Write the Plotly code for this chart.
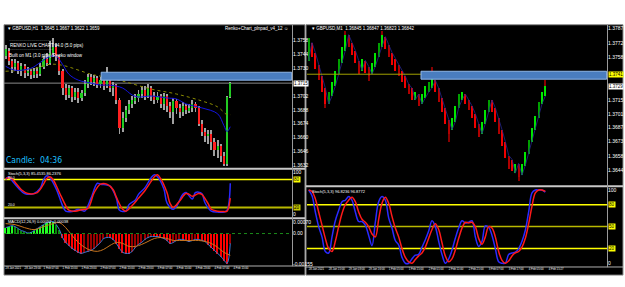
import plotly.graph_objects as go

W, H = 625, 287

# ---------------- data: left chart (GBPUSD H1 candles) ----------------
left_open = [1.3743,1.3748,1.3738,1.3732,1.3736,1.3728,1.3733,1.3726,1.3728,1.3723,
             1.3728,1.3724,1.3732,1.3740,1.3736,1.3746,1.3752,1.3742,1.3728,1.3710,
             1.3703,1.3710,1.3701,1.3706,1.3700,1.3705,1.3714,1.3721,1.3716,1.3720,
             1.3714,1.3718,1.3712,1.3720,1.3710,1.3713,1.3698,1.3670,1.3680,1.3688,
             1.3694,1.3698,1.3700,1.3704,1.3708,1.3702,1.3710,1.3702,1.3698,1.3702,
             1.3694,1.3702,1.3692,1.3686,1.3697,1.3690,1.3686,1.3692,1.3688,1.3690,
             1.3694,1.3690,1.3674,1.3666,1.3662,1.3664,1.3656,1.3648,1.3652,1.3642,
             1.3634,1.3701]
left_high = [1.3754,1.3751,1.3740,1.3740,1.3738,1.3736,1.3735,1.3732,1.3730,1.3731,
             1.3732,1.3736,1.3743,1.3746,1.3758,1.3761,1.3756,1.3744,1.3730,1.3714,
             1.3713,1.3712,1.3710,1.3710,1.3708,1.3718,1.3724,1.3724,1.3723,1.3722,
             1.3721,1.3723,1.3732,1.3722,1.3716,1.3714,1.3700,1.3686,1.3692,1.3698,
             1.3702,1.3704,1.3708,1.3712,1.3712,1.3714,1.3712,1.3706,1.3706,1.3704,
             1.3705,1.3704,1.3696,1.3700,1.3699,1.3694,1.3696,1.3694,1.3694,1.3698,
             1.3696,1.3692,1.3678,1.3670,1.3668,1.3668,1.3660,1.3658,1.3654,1.3646,
             1.3702,1.3716]
left_low = [1.3740,1.3734,1.3726,1.3728,1.3724,1.3722,1.3720,1.3722,1.3719,1.3720,
            1.3720,1.3722,1.3730,1.3733,1.3734,1.3742,1.3738,1.3723,1.3703,1.3698,
            1.3700,1.3696,1.3698,1.3695,1.3697,1.3702,1.3710,1.3713,1.3712,1.3710,
            1.3710,1.3708,1.3710,1.3706,1.3702,1.3694,1.3664,1.3666,1.3676,1.3684,
            1.3690,1.3694,1.3696,1.3700,1.3698,1.3700,1.3697,1.3694,1.3695,1.3690,
            1.3688,1.3686,1.3680,1.3674,1.3684,1.3680,1.3682,1.3684,1.3685,1.3686,
            1.3686,1.3672,1.3662,1.3656,1.3654,1.3648,1.3642,1.3640,1.3636,1.3632,
            1.3632,1.3700]
left_close = [1.3750,1.3738,1.3732,1.3736,1.3728,1.3733,1.3726,1.3728,1.3723,1.3728,
              1.3724,1.3732,1.3740,1.3736,1.3746,1.3752,1.3742,1.3728,1.3710,1.3703,
              1.3710,1.3701,1.3706,1.3700,1.3705,1.3714,1.3721,1.3716,1.3720,1.3714,
              1.3718,1.3712,1.3720,1.3710,1.3713,1.3698,1.3670,1.3680,1.3688,1.3694,
              1.3698,1.3700,1.3704,1.3708,1.3702,1.3710,1.3702,1.3698,1.3702,1.3694,
              1.3702,1.3692,1.3686,1.3697,1.3690,1.3686,1.3692,1.3688,1.3690,1.3694,
              1.3690,1.3674,1.3666,1.3662,1.3664,1.3656,1.3648,1.3652,1.3642,1.3634,
              1.3701,1.3715]

ma_fast_idx = [0,3,8,11,14,16,18,20,23,27,30,33,37,40,42,46,51,54,57,62,67,69,70,71]
ma_fast = [1.3732,1.3728,1.3730,1.3736,1.3742,1.3742,1.3734,1.3724,1.3718,1.3715,1.3713,1.3713,
           1.3710,1.3703,1.3701,1.3702,1.3700,1.3699,1.3694,1.3690,1.3684,1.3672,1.3666,1.3671]
ma_slow_idx = [0,8,14,18,27,30,37,46,54,62,67,70,71]
ma_slow = [1.3727,1.3729,1.3734,1.3733,1.3724,1.3722,1.3717,1.3709,1.3704,1.3697,1.3691,1.3683,1.3683]

left_zone = dict(start=30.2, top=1.3726, bottom=1.3718)
left_price_ticks = [1.3758,1.3744,1.3730,1.3702,1.3688,1.3674,1.3660,1.3646,1.3632]

ls_main_idx = [0,1,2,4,6,9,11,12,13,14,16,18,19,21,23,24,25,27,29,30,32,33,35,36,38,39,41,42,44,46,
               47,48,50,51,53,54,56,57,59,60,62,63,65,67,69,70,71]
ls_main = [80,86,78,62,50,50,62,80,88,84,60,24,12,11,16,14,12,40,72,70,68,66,40,14,12,26,36,48,62,84,
           90,86,60,30,16,22,48,52,38,52,50,30,12,10,10,14,72]
ls_sig_idx = [0,1,2,3,5,7,10,12,13,14,15,17,19,20,22,24,26,28,30,32,34,35,37,38,40,42,44,46,47,48,
              49,51,52,53,55,57,58,59,61,62,64,65,67,69,70,71]
ls_sig = [82,84,82,74,58,50,52,70,82,86,80,52,24,14,12,15,18,52,70,70,58,42,16,12,24,40,56,76,86,90,
          82,52,28,20,34,50,48,44,50,48,28,16,12,11,12,40]

macd_hist = [0.00030,0.00035,0.00040,0.00035,0.00025,0.00015,0.00010,0.00003,0.00005,0.00015,
             0.00025,0.00035,0.00045,0.00055,0.00060,0.00060,0.00045,0.00020,-0.00020,-0.00045,
             -0.00060,-0.00075,-0.00085,-0.00095,-0.00100,-0.00095,-0.00090,-0.00085,-0.00075,-0.00060,
             -0.00045,-0.00025,-0.00020,-0.00020,-0.00030,-0.00050,-0.00075,-0.00095,-0.00100,-0.00100,
             -0.00090,-0.00070,-0.00055,-0.00045,-0.00030,-0.00020,-0.00015,-0.00015,-0.00015,-0.00020,
             -0.00025,-0.00035,-0.00050,-0.00045,-0.00035,-0.00030,-0.00030,-0.00035,-0.00040,-0.00035,
             -0.00030,-0.00030,-0.00035,-0.00040,-0.00055,-0.00070,-0.00085,-0.00100,-0.00115,-0.00135,
             -0.00150,-0.00050]
macd_sig_idx = [0,3,6,9,12,15,17,19,21,23,25,27,29,31,33,35,37,39,41,43,45,47,49,51,53,55,57,59,61,63,65,67,69,71]
macd_sig = [0.0005,0.00045,0.0003,0.0002,0.00035,0.0005,0.00055,0.0003,-0.0001,-0.00045,
            -0.0007,-0.00085,-0.0009,-0.0008,-0.0006,-0.00045,-0.0005,-0.00065,-0.00065,-0.00055,
            -0.0004,-0.00025,-0.0002,-0.00025,-0.00035,-0.00035,-0.00035,-0.00035,-0.00035,-0.0004,
            -0.0005,-0.0007,-0.00095,-0.0011]

left_time_labels = ["28 Jan 2021","28 Jan 23:00","1 Feb 07:00","1 Feb 15:00","1 Feb 23:00",
                    "2 Feb 07:00","2 Feb 15:00","2 Feb 23:00","3 Feb 07:00","3 Feb 15:00",
                    "3 Feb 23:00","4 Feb 07:00","4 Feb 15:00"]

# ---------------- data: right chart (Renko) ----------------
right_open = [1.3755,1.3773,1.3763,1.3751,1.3739,1.3727,1.3711,1.3719,1.3729,1.3741,
              1.3753,1.3765,1.3781,1.3773,1.3765,1.3755,1.3745,1.3755,1.3749,1.3741,
              1.3749,1.3759,1.3769,1.3779,1.3771,1.3763,1.3757,1.3751,1.3745,1.3739,
              1.3731,1.3727,1.3715,1.3721,1.3711,1.3717,1.3723,1.3727,1.3735,1.3727,
              1.3717,1.3707,1.3695,1.3685,1.3693,1.3707,1.3715,1.3721,1.3715,1.3709,
              1.3701,1.3691,1.3681,1.3691,1.3703,1.3715,1.3707,1.3697,1.3685,1.3673,
              1.3659,1.3655,1.3641,1.3651,1.3639,1.3649,1.3661,1.3673,1.3685,1.3697,
              1.3711,1.3719]
right_close = [1.3778,1.3759,1.3747,1.3735,1.3723,1.3711,1.3723,1.3733,1.3745,1.3757,
               1.3769,1.3781,1.3769,1.3761,1.3753,1.3741,1.3757,1.3743,1.3739,1.3753,
               1.3763,1.3773,1.3781,1.3767,1.3759,1.3751,1.3745,1.3739,1.3733,1.3727,
               1.3721,1.3715,1.3723,1.3709,1.3721,1.3729,1.3733,1.3737,1.3723,1.3713,
               1.3703,1.3691,1.3681,1.3697,1.3709,1.3721,1.3723,1.3711,1.3705,1.3697,
               1.3687,1.3678,1.3693,1.3705,1.3715,1.3703,1.3693,1.3681,1.3669,1.3657,
               1.3645,1.3643,1.3651,1.3637,1.3651,1.3663,1.3675,1.3687,1.3699,1.3713,
               1.3723,1.3729]
right_wick_high = {11: 1.3785, 22: 1.3785, 37: 1.3749, 71: 1.3735}
right_wick_low = {5: 1.3707, 18: 1.3734, 42: 1.3673, 63: 1.3633}
right_zone = dict(start=33.7, top=1.3744, bottom=1.3736)
right_level = 1.3741
right_price_ticks = [1.3787,1.3772,1.3758,1.3715,1.3701,1.3687,1.3673,1.3658,1.3644]

rs_main = [100,92,70,50,36,16,14,36,58,72,84,86,91,86,70,57,57,52,38,24,
           56,84,91,86,62,48,31,25,8,0,0,6,11,12,22,32,44,58,50,30,
           12,0,6,18,34,48,58,55,56,58,36,23,30,51,49,38,20,2,0,0,
           12,14,15,20,30,45,70,96,100,100,100,97]
rs_sig = [100,98,88,70,52,34,20,16,30,50,68,80,86,90,84,70,60,56,50,40,
          36,60,82,90,82,64,48,36,20,8,2,0,5,10,14,22,34,46,54,46,
          28,10,2,6,18,34,48,56,55,56,50,34,26,36,50,48,36,16,4,0,
          3,10,14,16,22,34,54,78,96,100,100,98]

right_time_labels = ["28 Jan 2021","28 Jan 15:00","29 Jan 03:00","29 Jan 16:00","1 Feb 05:00",
                     "1 Feb 15:00","2 Feb 01:00","2 Feb 11:00","2 Feb 21:00","3 Feb 07:00",
                     "3 Feb 17:00","4 Feb 05:00","4 Feb 15:27"]

# ---------------- helpers ----------------
def fx(px):
    return px / W

def fy(py):
    return 1 - py / H

UP_L, DN_L = "#22cc22", "#ff2020"
UP_R, DN_R = "#00e600", "#f00000"
FONT = "Liberation Sans, Arial, sans-serif"

fig = go.Figure()

# ---- left main: wicks + bodies as overlaid bars, then MAs ----
n_left = len(left_close)
idx_l = list(range(n_left))
fig.add_trace(go.Bar(x=idx_l, y=[h - l for h, l in zip(left_high, left_low)], base=left_low, width=0.3,
                     marker=dict(color="#a0a0a0", line=dict(width=0)), xaxis="x", yaxis="y"))
fig.add_trace(go.Bar(x=idx_l, y=[c - o for o, c in zip(left_open, left_close)],
                     base=left_open, width=0.68,
                     marker=dict(color=[UP_L if c >= o else DN_L for o, c in zip(left_open, left_close)],
                                 line=dict(width=0)),
                     xaxis="x", yaxis="y"))
fig.add_trace(go.Scatter(x=ma_slow_idx, y=ma_slow, mode="lines", line=dict(color="#8a8a00", width=1, dash="dot"),
                         line_shape="spline", xaxis="x", yaxis="y"))
fig.add_trace(go.Scatter(x=ma_fast_idx, y=ma_fast, mode="lines", line=dict(color="#1414e0", width=1),
                         line_shape="spline", xaxis="x", yaxis="y"))

# ---- left stochastic ----
fig.add_trace(go.Scatter(x=ls_main_idx, y=ls_main, mode="lines", line=dict(color="#2a2aff", width=1.5),
                         line_shape="spline", xaxis="x2", yaxis="y2"))
fig.add_trace(go.Scatter(x=ls_sig_idx, y=ls_sig, mode="lines", line=dict(color="#ff1a1a", width=1.5),
                         line_shape="spline", xaxis="x2", yaxis="y2"))

# ---- left MACD ----
hist_colors = []
for i, v in enumerate(macd_hist):
    prev = macd_hist[i - 1] if i > 0 else v
    if v >= 0:
        hist_colors.append("#22ff22" if v >= prev else "#0a8a0a")
    else:
        hist_colors.append("#ff0000" if v <= prev else "#9a0000")
fig.add_trace(go.Bar(x=list(range(len(macd_hist))), y=macd_hist, width=0.5,
                     marker=dict(color=hist_colors, line=dict(width=0)), xaxis="x3", yaxis="y3"))
fig.add_trace(go.Scatter(x=list(range(len(macd_hist))), y=macd_hist, mode="lines",
                         line=dict(color="#3a7ad8", width=1), line_shape="spline", xaxis="x3", yaxis="y3"))
fig.add_trace(go.Scatter(x=macd_sig_idx, y=macd_sig, mode="lines", line=dict(color="#c8741e", width=1),
                         line_shape="spline", xaxis="x3", yaxis="y3"))

# ---- right main: renko bars ----
n_right = len(right_close)
idx_r = list(range(n_right))
rhigh = [max(o, c) for o, c in zip(right_open, right_close)]
rlow = [min(o, c) for o, c in zip(right_open, right_close)]
for k, v in right_wick_high.items():
    rhigh[k] = v
for k, v in right_wick_low.items():
    rlow[k] = v
fig.add_trace(go.Bar(x=idx_r, y=[h - l for h, l in zip(rhigh, rlow)], base=rlow, width=0.3,
                     marker=dict(color="#8a0000", line=dict(width=0)), xaxis="x4", yaxis="y4"))
rcolors = []
for i, (o, c) in enumerate(zip(right_open, right_close)):
    if c >= o:
        rcolors.append(UP_R if i % 3 else "#00a000")
    else:
        rcolors.append(DN_R if i % 3 else "#b00000")
fig.add_trace(go.Bar(x=idx_r, y=[c - o for o, c in zip(right_open, right_close)],
                     base=right_open, width=0.68,
                     marker=dict(color=rcolors, line=dict(width=0)),
                     xaxis="x4", yaxis="y4"))
fig.add_trace(go.Scatter(x=idx_r, y=right_open, mode="lines",
                         line=dict(color="#26268a", width=0.8), xaxis="x4", yaxis="y4"))

# ---- right stochastic ----
fig.add_trace(go.Scatter(x=idx_r, y=rs_main, mode="lines", line=dict(color="#2a2aff", width=1.5),
                         line_shape="spline", xaxis="x5", yaxis="y5"))
fig.add_trace(go.Scatter(x=idx_r, y=rs_sig, mode="lines", line=dict(color="#ff1a1a", width=1.5),
                         line_shape="spline", xaxis="x5", yaxis="y5"))

# ---------------- layout ----------------
tickfont = dict(size=5, color="white", family=FONT)
LX = [fx(4), fx(292)]
RX = [fx(307), fx(607)]

def xax(domain, rng, anchor, match=None, labels=None):
    d = dict(domain=domain, range=rng, anchor=anchor, showgrid=False, zeroline=False,
             showline=False, ticks="", fixedrange=True)
    if match:
        d["matches"] = match
    if labels:
        d.update(tickvals=[6 * k for k in range(len(labels))], ticktext=labels, tickangle=0,
                 ticklabelposition="outside right", tickfont=dict(size=2.8, color="white", family=FONT),
                 showticklabels=True, ticklen=0, ticklabeloverflow="allow")
    else:
        d["showticklabels"] = False
    return d

def yax(domain, rng, anchor, tickvals, ticktext):
    return dict(domain=domain, range=rng, anchor=anchor, side="right", showgrid=False,
                zeroline=False, showline=False, ticks="", tickvals=tickvals, ticktext=ticktext,
                tickfont=tickfont, fixedrange=True)

fig.update_layout(
    width=W, height=H, margin=dict(l=0, r=0, t=0, b=0),
    paper_bgcolor="white", plot_bgcolor="black", showlegend=False,
    bargap=0, barmode="overlay",
    font=dict(family=FONT, size=5, color="white"),
    xaxis=xax(LX, [-0.5, 90.5], "y"),
    xaxis2=xax(LX, [-0.5, 90.5], "y2", "x"),
    xaxis3=xax(LX, [-0.5, 90.5], "y3", "x", left_time_labels),
    xaxis4=xax(RX, [-0.5, 89.5], "y4"),
    xaxis5=xax(RX, [-0.5, 89.5], "y5", "x4", right_time_labels),
    yaxis=yax([fy(168), fy(25)], [1.3630, 1.3773], "x", left_price_ticks,
              ["%.4f" % v for v in left_price_ticks]),
    yaxis2=yax([fy(218), fy(171)], [0, 100], "x2", [96, 6], ["100", "0"]),
    yaxis3=yax([fy(267), fy(220)], [-0.0016, 0.00075], "x3", [0.00058, 0.0, -0.00155],
               ["0.00070", "0.00", "-0.00155"]),
    yaxis4=yax([fy(186), fy(25)], [1.3629, 1.3790], "x4", right_price_ticks,
               ["%.4f" % v for v in right_price_ticks]),
    yaxis5=yax([fy(268), fy(188)], [-4.05, 104.05], "x5", [100, 0], ["100", "0"]),
)

shapes = []
# window backgrounds
shapes.append(dict(type="rect", xref="paper", yref="paper", x0=fx(4), x1=fx(305), y0=fy(277), y1=fy(24),
                   fillcolor="black", line=dict(color="#8c8c8c", width=1), layer="below"))
shapes.append(dict(type="rect", xref="paper", yref="paper", x0=fx(306), x1=fx(623), y0=fy(277), y1=fy(24),
                   fillcolor="black", line=dict(color="#8c8c8c", width=1), layer="below"))
# separators
for (x0, x1, y, w, c) in [(4, 305, 169.5, 2, "#c8c8c8"), (4, 305, 219.5, 2, "#c8c8c8"),
                          (4, 305, 267.8, 1, "#b0b0b0"), (306, 623, 187.3, 2, "#c8c8c8"),
                          (306, 623, 268.8, 1, "#b0b0b0")]:
    shapes.append(dict(type="line", xref="paper", yref="paper", x0=fx(x0), x1=fx(x1), y0=fy(y), y1=fy(y),
                       line=dict(color=c, width=w)))
for (x, y0, y1) in [(292.5, 24, 268), (607.5, 24, 269)]:
    shapes.append(dict(type="line", xref="paper", yref="paper", x0=fx(x), x1=fx(x), y0=fy(y0), y1=fy(y1),
                       line=dict(color="#9a9a9a", width=1)))
# current price line (left) and level line (right)
shapes.append(dict(type="line", xref="x", yref="y", x0=-0.5, x1=90.5, y0=left_close[-1], y1=left_close[-1],
                   line=dict(color="#8a8a8a", width=1), layer="below"))
shapes.append(dict(type="line", xref="x4", yref="y4", x0=-0.5, x1=89.5, y0=right_level, y1=right_level,
                   line=dict(color="#a0a000", width=1)))
# supply/demand zones
shapes.append(dict(type="rect", xref="x", yref="y", x0=left_zone["start"], x1=90.4,
                   y0=left_zone["bottom"], y1=left_zone["top"], fillcolor="#4a7dbf",
                   line=dict(color="#8fb6e8", width=1)))
shapes.append(dict(type="rect", xref="x4", yref="y4", x0=right_zone["start"], x1=89.4,
                   y0=right_zone["bottom"], y1=right_zone["top"], fillcolor="#4a7dbf",
                   line=dict(color="#8fb6e8", width=1)))
# stochastic levels
shapes.append(dict(type="line", xref="x2", yref="y2", x0=-0.5, x1=90.5, y0=80, y1=80,
                   line=dict(color="#ffff00", width=1.5), layer="below"))
shapes.append(dict(type="line", xref="x2", yref="y2", x0=-0.5, x1=90.5, y0=20, y1=20,
                   line=dict(color="#b8b800", width=2), layer="below"))
for lv, col in [(80, "#ffff00"), (50, "#b8b800"), (20, "#ffff00")]:
    shapes.append(dict(type="line", xref="x5", yref="y5", x0=-0.5, x1=89.5, y0=lv, y1=lv,
                       line=dict(color=col, width=1.5), layer="below"))
# MACD zero line
shapes.append(dict(type="line", xref="x3", yref="y3", x0=-0.5, x1=90.5, y0=0, y1=0,
                   line=dict(color="#1a8a1a", width=1, dash="dot")))
fig.update_layout(shapes=shapes)

ann = []
def txt(x, y, s, size=4.5, color="white", anchor="left"):
    ann.append(dict(xref="paper", yref="paper", x=fx(x), y=fy(y), text=s, showarrow=False,
                    xanchor=anchor, yanchor="middle", font=dict(size=size, color=color, family=FONT)))

txt(6, 28, "▾ GBPUSD,H1  1.3645 1.3667 1.3622 1.3659")
txt(290, 28, "Renko+Chart_plnpad_v4_12 ☺", anchor="right")
txt(7, 40, "·································", size=4)
txt(8, 44.5, "RENKO LIVE CHART v4.0 (5.0 pips)")
txt(7, 49.5, "·································", size=4)
txt(7, 55, "Built on M1 (3.0 pips) Renko window", size=4.5)
ann.append(dict(xref="paper", yref="paper", x=fx(4), y=fy(160.5), text="Candle:  04:36", showarrow=False,
                xanchor="left", yanchor="middle",
                font=dict(size=8.5, color="#1ec0ff",
                          family="Liberation Sans Narrow, DejaVu Sans Condensed, Roboto, sans-serif")))
txt(6, 174, "Stoch(5,3,3) 85.4535 86.2376", size=4)
txt(6, 178.5, "80.0", size=3.5)
txt(6, 206, "20.0", size=3.5)
txt(6, 223, "MACD(12,26,9) 0.00052 -0.00038", size=4)
txt(310, 28, "▾ GBPUSD,M1  1.36845 1.36847 1.36823 1.36842")
txt(310, 193, "Stoch(5,3,3) 96.8236 96.8772", size=4)

def box(xpix, yref, yval, s, bg):
    ann.append(dict(xref="paper", yref=yref, x=fx(xpix), y=yval, text=s, showarrow=False,
                    xanchor="left", yanchor="middle", bgcolor=bg, borderpad=0,
                    font=dict(size=4.5, color="black", family=FONT)))

box(293, "y", left_close[-1], "%.4f" % left_close[-1], "white")
box(608, "y4", right_close[-1], "%.4f" % right_close[-1], "white")
box(608, "y4", right_level, "%.4f" % right_level, "#ffff00")
box(293, "y2", 80, "80", "#ffff00")
box(293, "y2", 20, "20", "#c8c800")
for lv in (80, 50, 20):
    box(608, "y5", lv, str(lv), "#ffff00")
fig.update_layout(annotations=ann)

fig.write_html("out.html")
